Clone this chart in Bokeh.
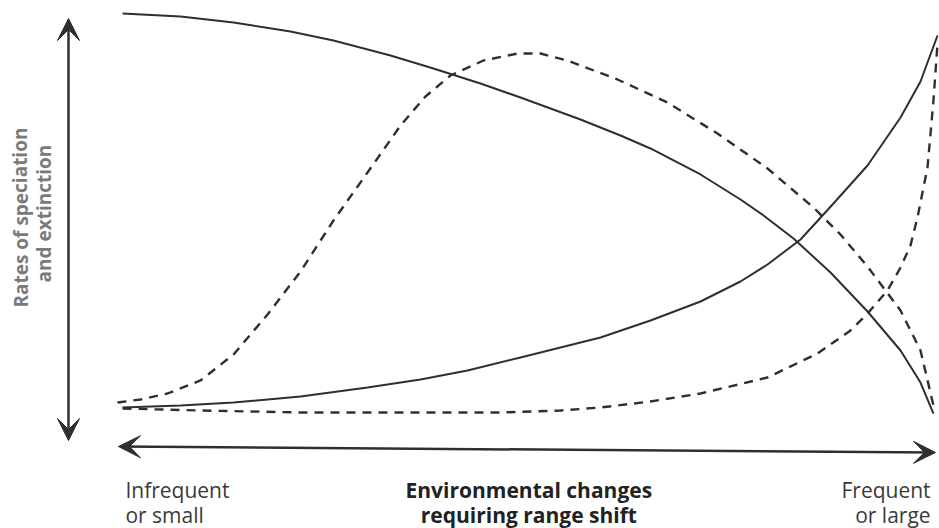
from bokeh.plotting import figure
from bokeh.models import Range1d, Arrow, VeeHead, Label
from bokeh.embed import file_html
from bokeh.resources import INLINE

# Conceptual curves: x = environmental change (0 = infrequent/small, 100 = frequent/large)
# y = relative rate (0 = low, 100 = high)
solid_falling_x = [0.25, 7.36, 13.87, 20.86, 26.13, 33.13, 38.40, 44.17, 49.08, 56.44,
                   61.35, 65.03, 71.17, 76.07, 78.90, 82.58, 87.12, 91.66, 95.71, 98.16, 99.75]
solid_falling_y = [100.0, 99.24, 97.73, 95.47, 93.20, 89.42, 86.15, 82.37, 78.84, 73.30,
                   69.27, 66.00, 59.45, 53.15, 49.12, 43.32, 34.76, 24.94, 15.11, 7.05, -0.76]

solid_rising_x = [0.25, 7.36, 13.87, 22.09, 30.31, 36.81, 42.58, 49.08, 53.99, 58.90,
                  65.03, 71.17, 76.07, 79.39, 83.44, 87.48, 91.66, 95.71, 98.16, 100.25]
solid_rising_y = [0.76, 1.26, 2.02, 3.53, 5.79, 7.81, 10.08, 13.35, 15.87, 18.39,
                  22.67, 27.46, 32.49, 36.78, 43.07, 52.14, 61.71, 73.80, 82.87, 94.46]

dashed_hump_x = [-0.37, 2.45, 5.77, 9.82, 13.87, 18.04, 22.09, 26.13, 30.31, 34.36, 37.42,
                 40.49, 44.54, 48.71, 51.53, 54.85, 60.98, 67.12, 73.25, 79.39, 85.03,
                 88.34, 91.66, 95.71, 98.16, 99.75]
dashed_hump_y = [2.02, 2.77, 4.28, 7.56, 14.11, 24.18, 35.01, 47.86, 59.95, 71.79, 79.09,
                 84.38, 88.16, 89.92, 89.92, 88.16, 83.38, 77.58, 69.77, 60.96, 51.13,
                 44.33, 36.27, 25.19, 15.11, 1.26]

dashed_rising_x = [0.25, 9.82, 22.09, 34.36, 46.63, 53.99, 58.90, 65.03, 71.17, 79.39,
                   85.52, 89.57, 91.66, 94.11, 95.71, 96.93, 97.79, 99.02, 99.75, 100.25]
dashed_rising_y = [0.50, 0.0, -0.50, -0.50, -0.50, 0.0, 0.76, 2.27, 4.28, 8.31,
                   14.36, 20.15, 24.43, 30.23, 36.02, 41.56, 48.61, 61.21, 78.09, 92.44]

x_label_left = ["Infrequent", "or small"]
x_label_mid = ["Environmental changes", "requiring range shift"]
x_label_right = ["Frequent", "or large"]
y_label = ["Rates of speciation", "and extinction"]

INK = "#2f2f2f"
TEXT = "#3a3a3a"
FONT = "Open Sans"

p = figure(width=939, height=528, output_backend="svg", toolbar_location=None,
           x_range=Range1d(-14.724, 100.491), y_range=Range1d(-29.723, 103.275),
           x_axis_type=None, y_axis_type=None, min_border=0)
p.grid.visible = False
p.outline_line_color = None
p.background_fill_color = "white"
p.border_fill_color = "white"

p.line(solid_falling_x, solid_falling_y, line_color=INK, line_width=2)
p.line(solid_rising_x, solid_rising_y, line_color=INK, line_width=2)
p.line(dashed_hump_x, dashed_hump_y, line_color=INK, line_width=2.4, line_dash="9 7")
p.line(dashed_rising_x, dashed_rising_y, line_color=INK, line_width=2.4, line_dash="9 7")

# double-headed axis arrows
p.add_layout(Arrow(x_start=-6.38, y_start=-7.56, x_end=-6.38, y_end=98.74,
                   line_color=INK, line_width=2.5,
                   start=VeeHead(size=22, fill_color=INK, line_color=INK),
                   end=VeeHead(size=22, fill_color=INK, line_color=INK)))
p.add_layout(Arrow(x_start=-0.25, y_start=-9.07, x_end=100.0, y_end=-10.58,
                   line_color=INK, line_width=2.5,
                   start=VeeHead(size=22, fill_color=INK, line_color=INK),
                   end=VeeHead(size=22, fill_color=INK, line_color=INK)))

row_y = [-20.15, -26.20]
for i in range(2):
    p.add_layout(Label(x=0.6, y=row_y[i], text=x_label_left[i], text_align="left",
                       text_baseline="alphabetic", text_font=FONT, text_font_size="21px",
                       text_color=TEXT))
    p.add_layout(Label(x=50.1, y=row_y[i], text=x_label_mid[i], text_align="center",
                       text_baseline="alphabetic", text_font=FONT, text_font_size="21px",
                       text_font_style="bold", text_color="#222222"))
    p.add_layout(Label(x=99.4, y=row_y[i], text=x_label_right[i], text_align="right",
                       text_baseline="alphabetic", text_font=FONT, text_font_size="21px",
                       text_color=TEXT))

p.add_layout(Label(x=-12.27, y=48.6, text=y_label[0], angle=1.5708, text_align="center",
                   text_baseline="middle", text_font=FONT, text_font_size="19px",
                   text_font_style="bold", text_color="#7a7a7a"))
p.add_layout(Label(x=-9.33, y=49.6, text=y_label[1], angle=1.5708, text_align="center",
                   text_baseline="middle", text_font=FONT, text_font_size="19px",
                   text_font_style="bold", text_color="#7a7a7a"))

open("out.html", "w").write(file_html(p, INLINE))
